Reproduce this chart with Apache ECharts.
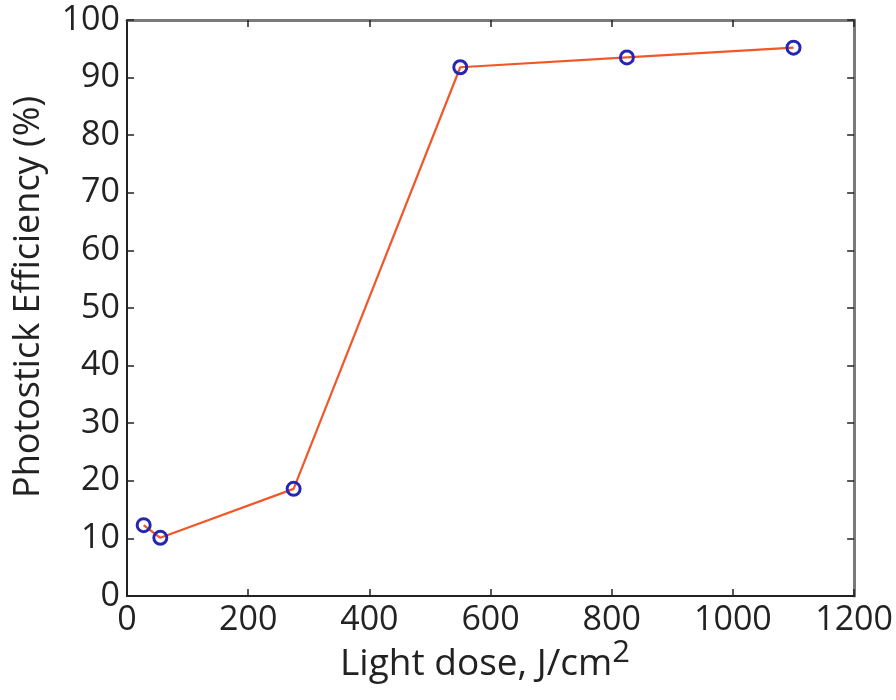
<!DOCTYPE html>
<html><head><meta charset="utf-8">
<script src="https://cdn.jsdelivr.net/npm/echarts@6/dist/echarts.min.js"></script>
<style>html,body{margin:0;padding:0;background:#fff}#c{width:896px;height:700px}</style>
</head><body><div id="c"></div>
<script>
const lightDose = [27.5, 55, 275, 550, 825, 1100];
const efficiency = [12.3, 10.1, 18.6, 91.8, 93.5, 95.2];
const xTitle = 'Light dose, J/cm';
const xTitleSup = '2';
const yTitle = 'Photostick Efficiency (%)';

const font = '"Open Sans", sans-serif';
const chart = echarts.init(document.getElementById('c'));
const data = lightDose.map((x, i) => [x, efficiency[i]]);
function axis(pos, showLabel, col, w) {
  return {
    type: 'value', position: pos,
    axisLine: {show: true, onZero: false, lineStyle: {color: col, width: w}},
    axisTick: {show: true, inside: true, length: 7, lineStyle: {color: '#222', width: 1.5}},
    splitLine: {show: false},
    axisLabel: showLabel ? {show: true, fontSize: 34, color: '#222', fontFamily: font, margin: 7,
      formatter: v => String(v)} : {show: false}
  };
}
const xb = Object.assign(axis('bottom', true, '#222', 2), {min: 0, max: 1200, interval: 200});
const xt = Object.assign(axis('top', false, '#7a7a7a', 3), {min: 0, max: 1200, interval: 200});
const yl = Object.assign(axis('left', true, '#222', 2), {min: 0, max: 100, interval: 10});
const yr = Object.assign(axis('right', false, '#7a7a7a', 3), {min: 0, max: 100, interval: 10});
chart.setOption({
  animation: false,
  backgroundColor: '#fff',
  grid: {left: 127, right: 41, top: 20, bottom: 104},
  xAxis: [xb, xt],
  yAxis: [yl, yr],
  graphic: [
    {type: 'text', x: 485, y: 664, style: {
      text: '{a|' + xTitle + '}{s|' + xTitleSup + '}',
      align: 'center', verticalAlign: 'middle',
      rich: {a: {fontSize: 37, fontFamily: font, fill: '#222'},
             s: {fontSize: 31, fontFamily: font, fill: '#222', padding: [0, 0, 22, 0]}}
    }},
    {type: 'text', x: 29, y: 297, rotation: Math.PI / 2, style: {
      text: yTitle, fontSize: 36, fontFamily: font, fill: '#222', align: 'center', verticalAlign: 'middle'}}
  ],
  series: [{
    type: 'line', data: data, xAxisIndex: 0, yAxisIndex: 0,
    lineStyle: {color: '#f0582a', width: 2.2},
    symbol: 'circle', symbolSize: 13,
    itemStyle: {color: 'rgba(255,255,255,0)', borderColor: '#2626b4', borderWidth: 3}
  }]
});
</script></body></html>
